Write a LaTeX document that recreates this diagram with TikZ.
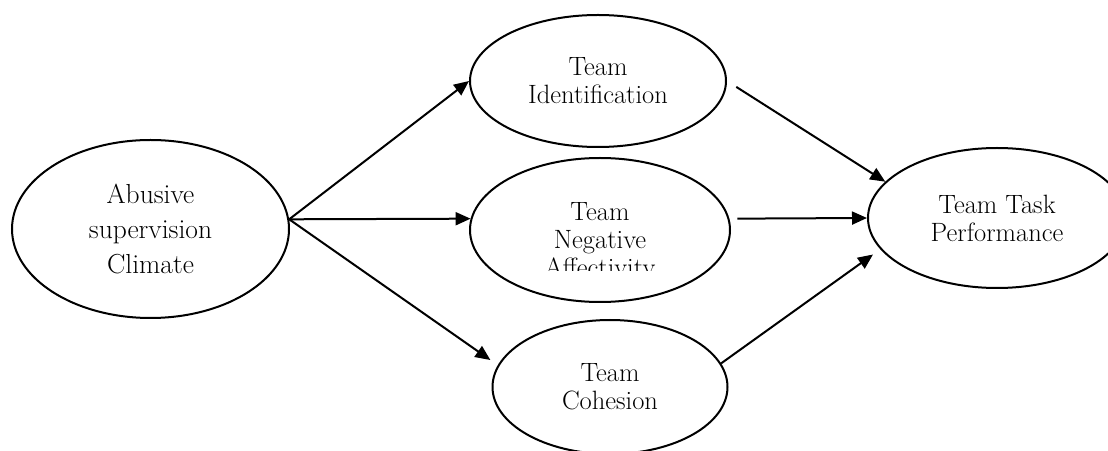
\documentclass[tikz,border=0pt]{standalone}
\usetikzlibrary{shapes.geometric,arrows.meta}
\begin{document}
\begin{tikzpicture}[x=1pt,y=1pt,
  oval/.style={ellipse,draw,line width=2pt,inner sep=0pt,align=center,font=\fontsize{26.5}{28}\selectfont},
  lbl/.style={inner sep=0pt,align=center,font=\fontsize{26.5}{28}\selectfont},
  link/.style={line width=2pt,-{Triangle[length=15pt,width=13pt]}}]
\clip (0,0) rectangle (1108,450);
\fill[white] (0,0) rectangle (1108,450);
% nodes
\node[oval,minimum width=277pt,minimum height=178pt,font=\fontsize{27.5}{35}\selectfont] (L) at (150.5,221) {Abusive\\supervision\\Climate};
\node[oval,minimum width=256pt,minimum height=132pt] (T) at (598,369) {Team\\Identification};
\node[oval,minimum width=260pt,minimum height=144pt] (M) at (600,220) {};
\begin{scope}
  \clip (400,179) rectangle (800,300);
  \node[lbl] (Mtext) at (600,208) {Team\\Negative\\Affectivity};
\end{scope}
\node[oval,minimum width=235pt,minimum height=134pt] (B) at (610,63) {Team\\Cohesion};
\node[oval,minimum width=258pt,minimum height=140pt] (R) at (997,232) {Team Task\\Performance};
% connectors
\draw[link] (L.4) -- (T.west);
\draw[link] (L.4) -- (M.175);
\draw[link,shorten >=9pt] (L.4) -- (B.169);
\draw[link,shorten <=11pt] (T.east) -- (R.162);
\draw[link,shorten <=8pt] (M.5) -- (R.west);
\draw[link,shorten >=9pt] (B.12.5) -- (R.195.5);
\end{tikzpicture}
\end{document}
